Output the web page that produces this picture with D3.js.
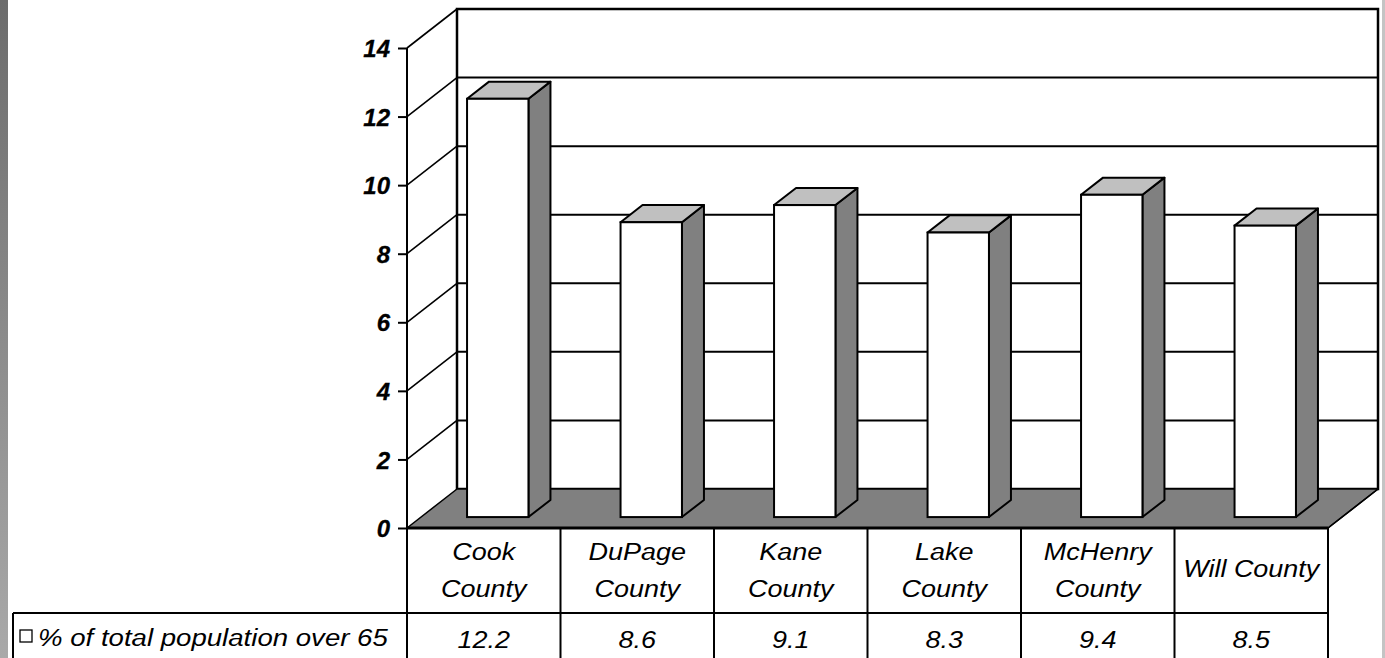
<!DOCTYPE html>
<html><head><meta charset="utf-8">
<script src="https://cdn.jsdelivr.net/npm/d3@7"></script>
<style>
html,body{margin:0;padding:0;background:#fff;}
svg{display:block;font-family:"Liberation Sans",Arial,sans-serif;}
</style></head>
<body>
<svg id="chart" width="1385" height="658"></svg>
<script>
const categories = ["Cook County","DuPage County","Kane County","Lake County","McHenry County","Will County"];
const categoryLines = [["Cook","County"],["DuPage","County"],["Kane","County"],["Lake","County"],["McHenry","County"],["Will County"]];
const values = [12.2, 8.6, 9.1, 8.3, 9.4, 8.5];
const valueLabels = ["12.2","8.6","9.1","8.3","9.4","8.5"];
const yTicks = [0,2,4,6,8,10,12,14];
const seriesName = "% of total population over 65";

const svg = d3.select("#chart");
const W = 1385, H = 658;

const defs = svg.append("defs");
const g1 = defs.append("linearGradient").attr("id","lg").attr("x1",0).attr("y1",0).attr("x2",0).attr("y2",1);
g1.append("stop").attr("offset","0%").attr("stop-color","#6c6c6c");
g1.append("stop").attr("offset","100%").attr("stop-color","#a9a9a9");
svg.append("rect").attr("x",0).attr("y",0).attr("width",8).attr("height",H).attr("fill","url(#lg)");
svg.append("rect").attr("x",1382).attr("y",0).attr("width",3).attr("height",H).attr("fill","#c4c4c4");

const x0 = 407, x1 = 1328;
const dx = 50, dy = -39;
const x = d3.scaleBand().domain(categories).range([x0, x1]).paddingInner(0).paddingOuter(0);
const y = d3.scaleLinear().domain([0,14]).range([528, 48]);

const stroke = "#000";
svg.append("rect").attr("x", x0+dx).attr("y", y(14)+dy).attr("width", x1-x0).attr("height", y(0)-y(14))
  .attr("fill","#fff").attr("stroke",stroke).attr("stroke-width",2.5);
svg.append("g").selectAll("line").data(yTicks.filter(t=>t>0)).join("line")
  .attr("x1", x0+dx).attr("x2", x1+dx)
  .attr("y1", d=>y(d)+dy).attr("y2", d=>y(d)+dy)
  .attr("stroke",stroke).attr("stroke-width",2);
svg.append("g").selectAll("line").data(yTicks.filter(t=>t>0)).join("line")
  .attr("x1", x0).attr("x2", x0+dx)
  .attr("y1", d=>y(d)).attr("y2", d=>y(d)+dy)
  .attr("stroke",stroke).attr("stroke-width",1.6);
svg.append("line").attr("x1",x0+dx).attr("x2",x0+dx).attr("y1",y(14)+dy).attr("y2",y(0)+dy)
  .attr("stroke",stroke).attr("stroke-width",2);

const floorPts = [[x0,y(0)],[x0+dx,y(0)+dy],[x1+dx,y(0)+dy],[x1,y(0)]];
svg.append("polygon").attr("points", floorPts.map(p=>p.join(",")).join(" "))
  .attr("fill","#808080").attr("stroke",stroke).attr("stroke-width",1.5).attr("stroke-linejoin","round");

const bw = x.bandwidth()*0.4;
const offF = 0.28, depthF = 0.44;
const bdx = dx*depthF, bdy = dy*depthF;
const bars = svg.append("g");
categories.forEach((c,i)=>{
  const v = values[i];
  const bx0 = x(c) + (x.bandwidth()-bw)/2 + dx*offF;
  const bx1 = bx0 + bw;
  const yb = y(0) + dy*offF;
  const yt = y(v) + dy*offF;
  const gb = bars.append("g");
  gb.append("polygon").attr("points",[[bx1,yb],[bx1+bdx,yb+bdy],[bx1+bdx,yt+bdy],[bx1,yt]].map(p=>p.join(",")).join(" "))
    .attr("fill","#808080").attr("stroke",stroke).attr("stroke-width",2).attr("stroke-linejoin","round");
  gb.append("polygon").attr("points",[[bx0,yt],[bx0+bdx,yt+bdy],[bx1+bdx,yt+bdy],[bx1,yt]].map(p=>p.join(",")).join(" "))
    .attr("fill","#c0c0c0").attr("stroke",stroke).attr("stroke-width",2).attr("stroke-linejoin","round");
  gb.append("rect").attr("x",bx0).attr("y",yt).attr("width",bw).attr("height",yb-yt)
    .attr("fill","#fff").attr("stroke",stroke).attr("stroke-width",2);
});

svg.append("line").attr("x1",x0).attr("x2",x1).attr("y1",y(0)).attr("y2",y(0)).attr("stroke",stroke).attr("stroke-width",3);

const yAxis = d3.axisLeft(y).tickValues(yTicks).tickSize(9).tickPadding(8).tickFormat(d3.format("d"));
const ga = svg.append("g").attr("transform",`translate(${x0},0)`).call(yAxis);
ga.selectAll(".domain").attr("stroke",stroke).attr("stroke-width",2).attr("d",`M0,${y(14)}V${y(0)}`);
ga.selectAll(".tick line").attr("stroke",stroke).attr("stroke-width",2);
ga.selectAll(".tick text").attr("fill","#000").attr("font-size","24px").attr("font-weight","bold")
  .attr("font-style","italic").attr("font-family",'"Liberation Sans",Arial,sans-serif').attr("dy","0.36em")
  .attr("stroke","#000").attr("stroke-width",0.3);

const table = svg.append("g");
const rowTop = y(0), rowMid = 613, rowBot = 660;
const colEdges = categories.map(c=>x(c)).concat([x1]);
table.selectAll("line.v").data(colEdges).join("line").attr("class","v")
  .attr("x1",d=>d).attr("x2",d=>d).attr("y1",rowTop).attr("y2",rowBot)
  .attr("stroke",stroke).attr("stroke-width",2);
table.append("line").attr("x1",13).attr("x2",x1).attr("y1",rowMid).attr("y2",rowMid).attr("stroke",stroke).attr("stroke-width",2);
table.append("line").attr("x1",13).attr("x2",13).attr("y1",rowMid).attr("y2",rowBot).attr("stroke",stroke).attr("stroke-width",2);
svg.append("line").attr("x1",x1).attr("x2",x1+dx).attr("y1",y(0)).attr("y2",y(0)+dy).attr("stroke",stroke).attr("stroke-width",1.5);

const sx = 1.1;
categories.forEach((c,i)=>{
  const cx = x(c)+x.bandwidth()/2;
  const lines = categoryLines[i];
  const cy = lines.length===1 ? [568] : [551, 588];
  lines.forEach((t,j)=>{
    table.append("text").attr("transform",`translate(${cx},${cy[j]}) scale(${sx},1)`)
      .attr("text-anchor","middle").attr("dy","0.36em")
      .attr("font-size","24.5px").attr("font-style","italic").text(t);
  });
  table.append("text").attr("transform",`translate(${cx},639) scale(${sx},1)`)
    .attr("text-anchor","middle").attr("dy","0.36em")
    .attr("font-size","24.5px").attr("font-style","italic").text(valueLabels[i]);
});
table.append("rect").attr("x",20).attr("y",630).attr("width",12).attr("height",12).attr("fill","#fff").attr("stroke",stroke).attr("stroke-width",1.3);
table.append("text").attr("transform",`translate(38,637) scale(1.15,1)`).attr("dy","0.36em")
  .attr("font-size","24px").attr("font-style","italic").text(seriesName);
</script>
</body></html>
